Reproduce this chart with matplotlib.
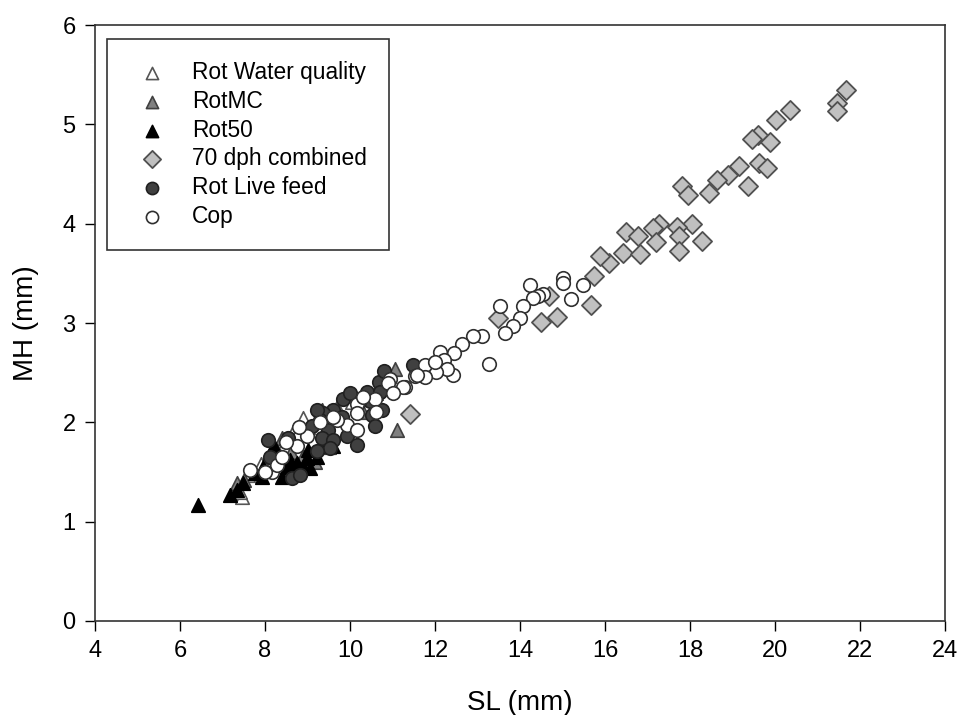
import numpy as np
import matplotlib.pyplot as plt

# Rot Water quality (open triangles)
wq_sl = [7.45, 7.40, 7.61, 7.90, 8.10, 8.30, 8.67, 8.90, 8.75, 9.00, 9.20, 9.37, 9.92, 9.70, 10.05, 8.45, 8.20]
wq_mh = [1.25, 1.30, 1.47, 1.58, 1.65, 1.70, 1.92, 2.04, 1.88, 1.95, 2.00, 2.09, 2.24, 2.15, 2.20, 1.82, 1.72]

# RotMC (grey triangles)
mc_sl = [7.33, 7.50, 8.00, 8.39, 8.60, 9.18, 9.33, 9.50, 9.92, 10.30, 11.06, 11.10, 8.90, 10.60]
mc_mh = [1.39, 1.42, 1.55, 1.84, 1.70, 1.60, 2.12, 1.75, 2.28, 2.10, 2.54, 1.92, 1.66, 2.30]

# Rot50 (black triangles)
r50_sl = [6.43, 7.18, 7.33, 7.49, 7.76, 7.96, 7.92, 8.12, 8.20, 8.51, 8.59, 8.75, 8.90, 9.06, 8.98,
          9.22, 9.37, 9.61, 8.40, 9.00, 9.50]
r50_mh = [1.17, 1.27, 1.32, 1.39, 1.49, 1.55, 1.45, 1.69, 1.76, 1.55, 1.62, 1.59, 1.55, 1.54, 1.64,
          1.65, 1.76, 1.76, 1.45, 1.72, 1.85]

# 70 dph combined (grey diamonds)
d70_sl = [21.66, 21.45, 21.45, 20.35, 20.02, 19.61, 19.45, 19.87, 19.62, 19.80, 19.16, 18.90, 18.63,
          19.36, 18.45, 17.80, 17.96, 18.04, 17.69, 17.28, 17.14, 17.73, 17.20, 18.28, 16.49, 16.77,
          17.75, 16.42, 16.82, 16.10, 15.87, 15.73, 15.66, 14.86, 14.49, 13.49, 14.69, 11.41]
d70_mh = [5.35, 5.21, 5.13, 5.14, 5.04, 4.89, 4.85, 4.82, 4.61, 4.56, 4.58, 4.49, 4.44,
          4.38, 4.31, 4.38, 4.29, 4.00, 3.97, 4.00, 3.96, 3.88, 3.82, 3.83, 3.92, 3.88,
          3.72, 3.70, 3.69, 3.60, 3.67, 3.47, 3.18, 3.06, 3.01, 3.05, 3.27, 2.08]

# Rot Live feed (dark circles)
lf_sl = [10.67, 10.39, 10.71, 10.47, 10.75, 10.51, 10.59, 9.61, 9.37, 9.29, 9.49, 9.33, 9.61, 9.92,
         9.53, 9.22, 8.08, 8.55, 8.12, 8.63, 8.82, 10.16, 9.10, 9.84, 9.22, 11.49, 10.80, 10.20,
         9.80, 10.00]
lf_mh = [2.41, 2.31, 2.31, 2.21, 2.12, 2.07, 1.96, 2.12, 2.09, 2.02, 1.92, 1.84, 1.82, 1.86,
         1.74, 1.71, 1.82, 1.84, 1.65, 1.44, 1.47, 1.77, 1.96, 2.23, 2.12, 2.58, 2.52, 2.20,
         2.05, 2.30]

# Cop (open circles)
cop_sl = [14.24, 13.53, 15.02, 15.00, 15.49, 15.19, 14.55, 14.43, 14.31, 14.08, 13.99, 13.83, 13.65,
          13.28, 13.10, 12.90, 12.63, 12.45, 12.42, 12.12, 12.20, 12.28, 12.02, 11.76, 11.76, 11.53,
          11.29, 12.00, 11.57, 11.25, 10.94, 10.59, 10.16, 10.16, 9.92, 9.69, 10.16, 8.98, 7.65,
          8.16, 8.28, 8.75, 8.00, 8.50, 8.80, 9.30, 9.60, 10.30, 10.60, 10.90, 11.00, 8.40]
cop_mh = [3.38, 3.17, 3.45, 3.40, 3.38, 3.24, 3.29, 3.27, 3.25, 3.17, 3.05, 2.97, 2.90,
          2.59, 2.87, 2.87, 2.79, 2.70, 2.48, 2.71, 2.63, 2.54, 2.51, 2.58, 2.46, 2.47,
          2.36, 2.61, 2.48, 2.36, 2.44, 2.23, 2.18, 2.09, 1.97, 2.02, 1.92, 1.86, 1.52,
          1.50, 1.57, 1.76, 1.50, 1.80, 1.95, 2.00, 2.05, 2.25, 2.10, 2.40, 2.30, 1.65]

plt.rcParams['font.family'] = ['Liberation Sans', 'DejaVu Sans']

fig = plt.figure(figsize=(9.61, 7.15), dpi=100)
ax = fig.add_axes([0.0989, 0.1315, 0.8845, 0.8335])

ms = 95
ax.scatter(wq_sl, wq_mh, s=ms, marker='^', facecolor='white', edgecolor='#555555', linewidth=1.2,
           label='Rot Water quality', zorder=3)
ax.scatter(mc_sl, mc_mh, s=ms, marker='^', facecolor='#808080', edgecolor='#404040', linewidth=1.2,
           label='RotMC', zorder=3)
ax.scatter(r50_sl, r50_mh, s=ms, marker='^', facecolor='black', edgecolor='black', linewidth=1.2,
           label='Rot50', zorder=3)
ax.scatter(d70_sl, d70_mh, s=ms, marker='D', facecolor='#c0c0c0', edgecolor='#505050', linewidth=1.3,
           label='70 dph combined', zorder=3)
ax.scatter(lf_sl, lf_mh, s=ms, marker='o', facecolor='#404040', edgecolor='#202020', linewidth=1.2,
           label='Rot Live feed', zorder=3)
ax.scatter(cop_sl, cop_mh, s=ms, marker='o', facecolor='white', edgecolor='#303030', linewidth=1.2,
           label='Cop', zorder=3)

ax.set_xlim(4, 24)
ax.set_ylim(0, 6)
ax.set_xticks(np.arange(4, 25, 2))
ax.set_yticks(np.arange(0, 7, 1))
ax.tick_params(direction='out', length=7, width=1, labelsize=17, pad=7)
for sp in ax.spines.values():
    sp.set_linewidth(1.2)
    sp.set_color('#333333')

ax.set_xlabel('SL (mm)', fontsize=20, labelpad=20)
ax.set_ylabel('MH (mm)', fontsize=20, labelpad=17)

leg = ax.legend(loc='upper left', bbox_to_anchor=(0.014, 0.9765), fontsize=16.4, frameon=True,
                fancybox=False, edgecolor='black', borderpad=0.97, handlelength=2.0,
                handletextpad=0.75, labelspacing=0.25, markerscale=0.9, borderaxespad=0)
leg.get_frame().set_linewidth(1.2)

fig.savefig('out.png', dpi=100)
